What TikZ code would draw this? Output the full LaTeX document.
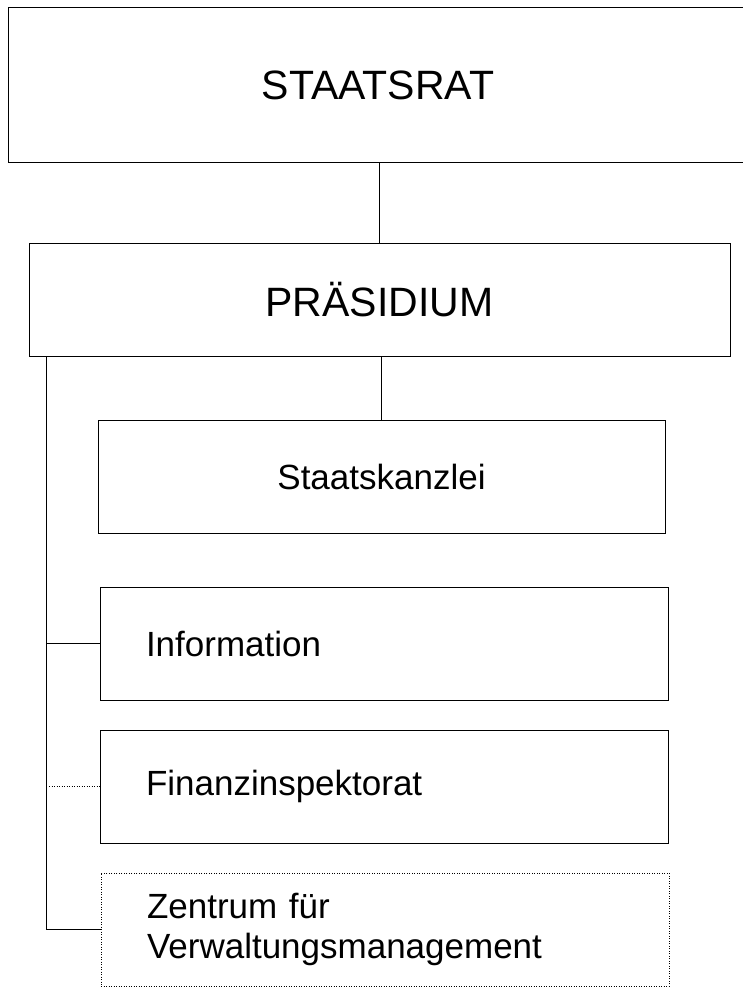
\documentclass[tikz,border=0pt]{standalone}
\usepackage{fontspec}
\setmainfont{Liberation Sans}
\begin{document}
\begin{tikzpicture}[x=1pt,y=-1pt,
  box/.style={draw, line width=1pt, rectangle, inner sep=0pt, minimum height=113pt},
  bigtext/.style={font=\fontsize{41}{46}\selectfont},
  smalltext/.style={font=\fontsize{35}{40}\selectfont},
  leftbox/.style={box, smalltext, minimum width=568pt, text width=476pt, align=left},
  conn/.style={line width=1pt},
  dotconn/.style={line width=0.8pt, dash pattern=on 1pt off 1.5pt}
]
\useasboundingbox (0,0) rectangle (743,987);
\begin{scope}
\clip (0,0) rectangle (743,987);
\node[box, bigtext, minimum width=740pt, minimum height=155pt] (staat) at (378,85.5) {STAATSRAT};
\end{scope}
\node[box, bigtext, minimum width=701pt] (pras) at (379.5,299.5) {PRÄSIDIUM};
\node[box, smalltext, minimum width=567pt] (kanz) at (381.5,476.5) {Staatskanzlei};
\node[leftbox] (info) at (384,643.5) {Information};
\node[leftbox] (fin) at (384,786.5) {Finanzinspektorat};
\node[leftbox, dash pattern=on 1pt off 1.5pt, line width=0.8pt] (zent) at (385,929.5) {Zentrum für\\Verwaltungsmanagement};
\coordinate (bus) at (46,356);
\draw[conn] (pras.north) -- (pras.north |- staat.south);
\draw[conn] (kanz.north) -- (kanz.north |- pras.south);
\draw[conn] (bus) |- (info.west);
\draw[conn] (bus) |- (zent.west);
\draw[dotconn] ([xshift=3pt]bus |- fin.west) -- (fin.west);
\end{tikzpicture}
\end{document}
